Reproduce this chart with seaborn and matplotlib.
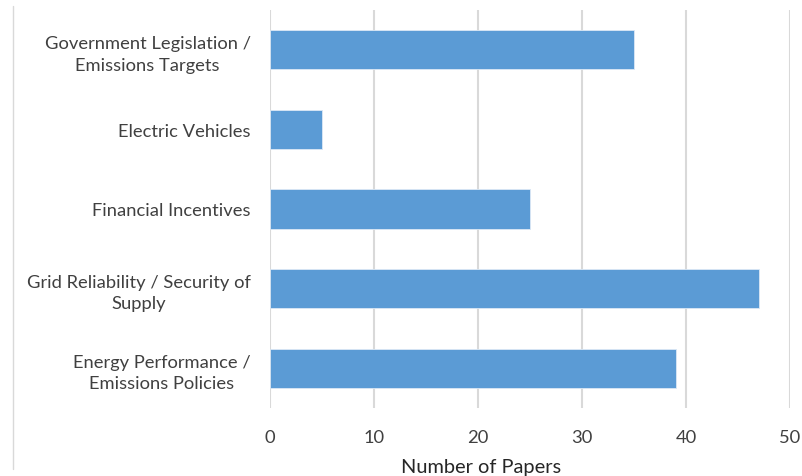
import matplotlib
matplotlib.use("Agg")
import matplotlib.pyplot as plt
import seaborn as sns
import pandas as pd
from matplotlib.lines import Line2D

# data (top to bottom)
categories = [
    "Government Legislation /\nEmissions Targets",
    "Electric Vehicles",
    "Financial Incentives",
    "Grid Reliability / Security of\nSupply",
    "Energy Performance /\nEmissions Policies",
]
papers = [35, 5, 25, 47, 39]
x_ticks = [0, 10, 20, 30, 40, 50]

df = pd.DataFrame({"topic": categories, "papers": papers})

sns.set_style("white")
plt.rcParams['font.family'] = ['Lato', 'DejaVu Sans']

fig = plt.figure(figsize=(8.03, 4.77), dpi=100)
ax = fig.add_axes([270 / 803, 1 - 409 / 477, 520 / 803, 398 / 477])

sns.barplot(data=df, x="papers", y="topic", orient="h", color="#5B9BD5",
            saturation=1, width=0.49, edgecolor="#DCE8F5", linewidth=0.6,
            ax=ax, zorder=3)

ax.set_xlim(0, 50)
ax.set_ylim(4.5, -0.5)
ax.set_xticks(x_ticks)
ax.grid(axis="x", color="#D9D9D9", linewidth=1.5, zorder=0)
ax.grid(axis="y", visible=False)
for s in ax.spines.values():
    s.set_visible(False)

ax.tick_params(axis="both", length=0, labelsize=13.2, colors="#404040")
ax.tick_params(axis="x", pad=15)
ax.tick_params(axis="y", pad=14)
for lbl in ax.get_yticklabels():
    lbl.set_multialignment("center")
    lbl.set_linespacing(1.4)

ax.set_ylabel("")
ax.set_xlabel("Number of Papers", fontsize=14.4, color="#262626")
ax.xaxis.set_label_coords((481 - 270) / 520, -0.125)

# faint chart-area border on the left edge
fig.add_artist(Line2D([13 / 803, 13 / 803], [1 - 470 / 477, 1 - 7 / 477],
                      color="#D9D9D9", linewidth=1.0))

fig.savefig("out.png", dpi=100)
